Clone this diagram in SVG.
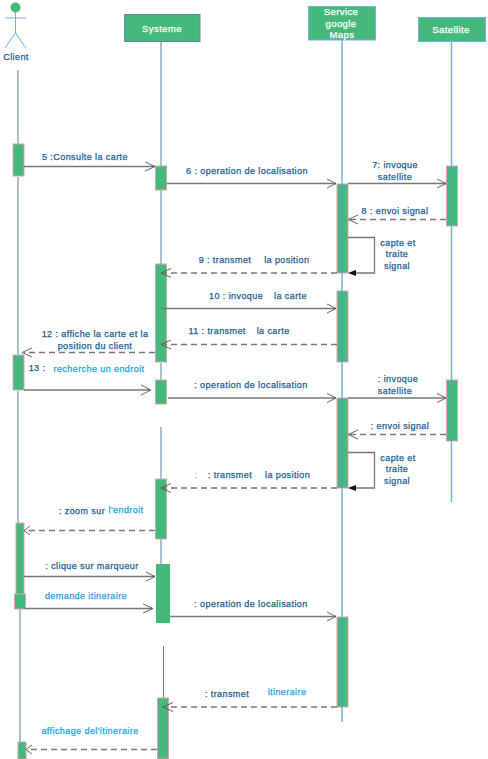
<svg xmlns="http://www.w3.org/2000/svg" width="488" height="759" viewBox="0 0 488 759">
<style>
text{font-family:"Liberation Sans",Arial,sans-serif;font-size:9px;font-weight:normal;fill:#215E92;stroke:#215E92;stroke-width:.25;letter-spacing:.42px;text-anchor:middle}
.c{fill:#1AA3E8;stroke:#1AA3E8}
.o{fill:#F0B070;stroke:#F0B070}
.w{fill:#fff;stroke:#fff;font-size:9.5px}
.box{fill:#45B97C}
.a{fill:#45B97C;stroke:#D9A5B0;stroke-width:1}
.l{fill:none;stroke:#5F7F9F;stroke-width:1}
.b{fill:none;stroke:#6DB5E6;stroke-width:1.5}
.m{fill:none;stroke:#777;stroke-width:1.3}
.d{stroke-dasharray:6 4}
.h{fill:none;stroke:#555;stroke-width:.9}
</style>
<g id="lifelines">
<path class="l" d="M18 70V144M18 177V355M18 391V523M20 607V743"/>
<path class="l" d="M161 41V166M161 190V264M161 363V380M161 427V479M161 539V565M163.500 646V698"/>
<path class="b" d="M342 40V722"/>
<path class="b" d="M451.500 41V502"/>
</g>
<g id="client"><circle cx="15.500" cy="7.500" r="5" fill="#45B97C"/><path d="M15.500 12V33M5 18H26M15.500 33L5 48M15.500 33L26 48" fill="none" stroke="#6DB5E6" stroke-width="1"/><text x="16" y="60">Client</text></g>
<g id="systeme"><rect x="124.500" y="14.500" width="75.500" height="27" class="box" stroke="#5F8F9F"/><text x="162" y="32" class="w">Systeme</text></g>
<g id="maps"><rect x="308.500" y="6.500" width="67" height="33.500" class="box" stroke="#6DB5E6"/><text x="341" y="15" class="w">Service</text><text x="341" y="27" class="w">google</text><text x="342" y="38" class="w">Maps</text></g>
<g id="satellite"><rect x="418.500" y="17.500" width="67" height="24" class="box" stroke="#6DB5E6"/><text x="451" y="33" class="w">Satellite</text></g>
<g id="activations">
<rect class="a" x="13" y="144" width="11" height="32"/>
<rect class="a" x="155.500" y="166" width="11" height="24"/>
<rect class="a" x="337" y="184" width="11" height="89"/>
<rect class="a" x="446.500" y="166" width="11" height="60"/>
<rect class="a" x="155.500" y="264" width="11" height="98"/>
<rect class="a" x="337" y="291" width="11" height="71"/>
<rect class="a" x="13" y="355" width="11" height="35"/>
<rect class="a" x="155.500" y="380" width="11" height="24"/>
<rect class="a" x="337" y="398" width="11" height="90"/>
<rect class="a" x="446.500" y="380" width="11" height="61"/>
<rect class="a" x="155.500" y="479" width="11" height="60"/>
<rect class="a" x="16" y="523" width="8" height="74"/>
<rect class="a" x="14.500" y="594" width="11" height="15"/>
<rect x="156" y="564" width="14" height="59" class="box"/>
<rect class="a" x="337" y="617" width="11" height="90"/>
<rect class="a" x="157.500" y="698" width="11" height="61"/>
<rect class="a" x="18" y="742" width="8" height="17"/>
<path d="M342 184V273M342 291V362M342 398V488M342 617V707M451.500 166V226M451.500 380V441" stroke="#4FA0C8" stroke-width="1.200" fill="none"/>
</g>
<g id="connectors">
<path class="m" d="M24 166.500H155"/><path class="h" d="M145 162L155 166.500L145 171"/>
<path class="m" d="M167 183.500H336"/><path class="h" d="M327 179L336 183.500L327 188"/>
<path class="m" d="M348 183.500H446"/><path class="h" d="M437 179L446 183.500L437 188"/>
<path class="m d" d="M446 219.500H349"/><path class="h" d="M358 215L348 219.500L358 224"/>
<path class="m" d="M348 237.500H374.500V273H350"/><path d="M348 273L356 270V276Z" fill="#111"/>
<path class="m d" d="M337 273H163"/><path class="h" d="M171 268.500L161 273L171 277.500"/>
<path class="m" d="M161 308.500H336"/><path class="h" d="M327 304L336 308.500L327 313"/>
<path class="m d" d="M337 344.500H163"/><path class="h" d="M171 340L161 344.500L171 349"/>
<path class="m d" d="M155 352.500H24"/><path class="h" d="M32 348L22 352.500L32 357"/>
<path class="m" d="M24 390H150"/><path class="h" d="M141 385L151 390L141 395"/>
<path class="m" d="M168 398H336"/><path class="h" d="M327 393.500L336 398L327 402.500"/>
<path class="m" d="M348 398H446"/><path class="h" d="M437 393.500L446 398L437 402.500"/>
<path class="m d" d="M446 434.500H349"/><path class="h" d="M358 430L348 434.500L358 439"/>
<path class="m" d="M348 452.500H374.500V488H350"/><path d="M348 488L356 485V491Z" fill="#111"/>
<path class="m d" d="M337 488H163"/><path class="h" d="M171 483.500L161 488L171 492.500"/>
<path class="m d" d="M155 530.500H26"/><path class="h" d="M30 526L24 530.500L30 535"/>
<path class="m" d="M24 576.500H155"/><path class="h" d="M146 572L155 576.500L146 581"/>
<path class="m" d="M25 608.500H152"/><path class="h" d="M143 604L153 608.500L143 613"/>
<path class="m" d="M170 616.500H336"/><path class="h" d="M327 612L336 616.500L327 621"/>
<path class="m d" d="M337 707H170"/><path class="h" d="M173 702.500L163 707L173 711.500"/>
<path class="m d" d="M157 749.500H28"/><path class="h" d="M32 745L26 749.500L32 754"/>
</g>
<g id="labels">
<text x="85" y="160">5 :Consulte la carte</text>
<text x="247" y="174">6 : operation de localisation</text>
<text x="395" y="168">7: invoque</text><text x="395" y="180">satellite</text>
<text x="395" y="214">8 : envoi signal</text>
<text x="398" y="246">capte et</text><text x="397" y="257">traite</text><text x="397" y="269">signal</text>
<text x="254" y="263">9 : transmet <tspan dx="10">la position</tspan></text>
<text x="258" y="299">10 : invoque <tspan dx="8">la carte</tspan></text>
<text x="239" y="334">11 : transmet <tspan dx="8">la carte</tspan></text>
<text x="95" y="337">12 : affiche la carte et la</text><text x="95" y="349">position du client</text>
<text x="37" y="371">13 :</text><text x="99" y="372" class="c">recherche un endroit</text>
<text x="251" y="388">: operation de localisation</text>
<text x="398" y="382">: invoque</text><text x="395" y="394">satellite</text>
<text x="400" y="429">: envoi signal</text>
<text x="398" y="461">capte et</text><text x="397" y="472">traite</text><text x="397" y="484">signal</text>
<text x="196.500" y="478" class="o">:</text><text x="259" y="478">: transmet <tspan dx="10">la position</tspan></text>
<text x="82" y="514">: zoom sur</text><text x="126" y="513" class="c">l'endroit</text>
<text x="92" y="569">: clique sur marqueur</text>
<text x="86" y="599" class="c">demande itineraire</text>
<text x="251" y="607">: operation de localisation</text>
<text x="227" y="697">: transmet</text><text x="287" y="695" class="c">itineraire</text>
<text x="90" y="734" class="c">affichage del'itineraire</text>
</g>
</svg>
